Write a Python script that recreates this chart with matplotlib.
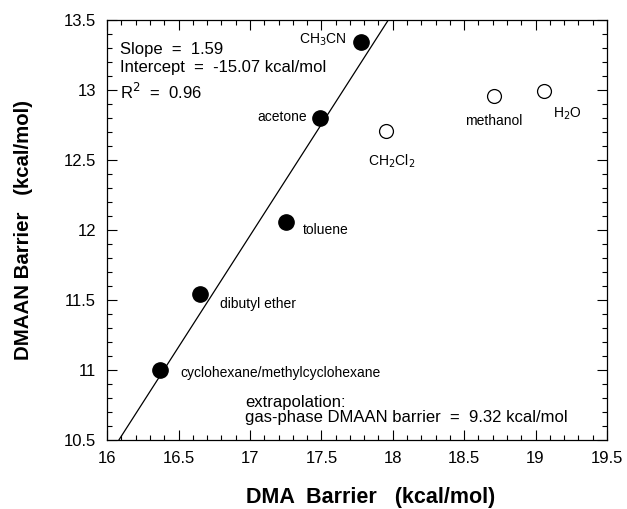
import matplotlib.pyplot as plt
from matplotlib.ticker import MultipleLocator

plt.rcParams['font.family'] = ['Liberation Sans', 'DejaVu Sans']

# solvents in the fit (filled)
fit_names = ['CH$_3$CN', 'acetone', 'toluene', 'dibutyl ether', 'cyclohexane/methylcyclohexane']
fit_dma = [17.78, 17.49, 17.25, 16.65, 16.37]
fit_dmaan = [13.34, 12.80, 12.06, 11.54, 11.00]

# protic / other solvents (open)
out_names = ['CH$_2$Cl$_2$', 'methanol', 'H$_2$O']
out_dma = [17.95, 18.71, 19.06]
out_dmaan = [12.71, 12.96, 12.99]

slope = 1.59
intercept = -15.07

fig = plt.figure(figsize=(6.27, 5.09), dpi=100)
ax = fig.add_axes([0.171, 0.1356, 0.797, 0.825])

# regression line across the whole x range
xl = [16.0, 19.5]
ax.plot(xl, [slope * v + intercept for v in xl], color='black', lw=0.9)

ax.plot(fit_dma, fit_dmaan, 'o', color='black', ms=11)
ax.plot(out_dma, out_dmaan, 'o', mfc='white', mec='black', mew=0.9, ms=10)

# point labels
fs = 10
ax.text(17.68, 13.36, fit_names[0], ha='right', va='center', fontsize=fs)
ax.text(17.40, 12.81, fit_names[1], ha='right', va='center', fontsize=fs)
ax.text(17.37, 12.00, fit_names[2], ha='left', va='center', fontsize=fs)
ax.text(16.79, 11.47, fit_names[3], ha='left', va='center', fontsize=fs)
ax.text(16.51, 10.98, fit_names[4], ha='left', va='center', fontsize=fs)
ax.text(17.83, 12.49, out_names[0], ha='left', va='center', fontsize=fs)
ax.text(18.71, 12.78, out_names[1], ha='center', va='center', fontsize=fs)
ax.text(19.12, 12.83, out_names[2], ha='left', va='center', fontsize=fs)

ax.text(0.026, 0.931, 'Slope  =  1.59', transform=ax.transAxes,
        ha='left', va='center', fontsize=12)
ax.text(0.026, 0.888, 'Intercept  =  -15.07 kcal/mol', transform=ax.transAxes,
        ha='left', va='center', fontsize=12)
ax.text(0.026, 0.829, 'R$^2$  =  0.96', transform=ax.transAxes,
        ha='left', va='center', fontsize=12)
ax.text(0.276, 0.036, 'extrapolation:\ngas-phase DMAAN barrier  =  9.32 kcal/mol',
        transform=ax.transAxes, ha='left', va='bottom', fontsize=12, linespacing=1.0)

ax.set_xlim(16, 19.5)
ax.set_ylim(10.5, 13.5)
ax.xaxis.set_minor_locator(MultipleLocator(0.1))
ax.yaxis.set_minor_locator(MultipleLocator(0.1))
ax.set_xticks([16, 16.5, 17, 17.5, 18, 18.5, 19, 19.5])
ax.set_xticklabels(['16', '16.5', '17', '17.5', '18', '18.5', '19', '19.5'])
ax.set_yticks([10.5, 11, 11.5, 12, 12.5, 13, 13.5])
ax.set_yticklabels(['10.5', '11', '11.5', '12', '12.5', '13', '13.5'])
ax.tick_params(which='both', direction='in', top=True, right=True, width=0.8)
ax.tick_params(which='major', length=7, labelsize=12, pad=8)
ax.tick_params(which='minor', length=3.5)
for s in ax.spines.values():
    s.set_linewidth(0.9)

ax.set_xlabel('DMA  Barrier   (kcal/mol)', fontsize=15.5, fontweight='bold', labelpad=15)
ax.xaxis.label.set_x(0.528)
ax.set_ylabel('DMAAN Barrier   (kcal/mol)', fontsize=14.7, fontweight='bold', labelpad=22)

fig.savefig('out.png', dpi=100)
